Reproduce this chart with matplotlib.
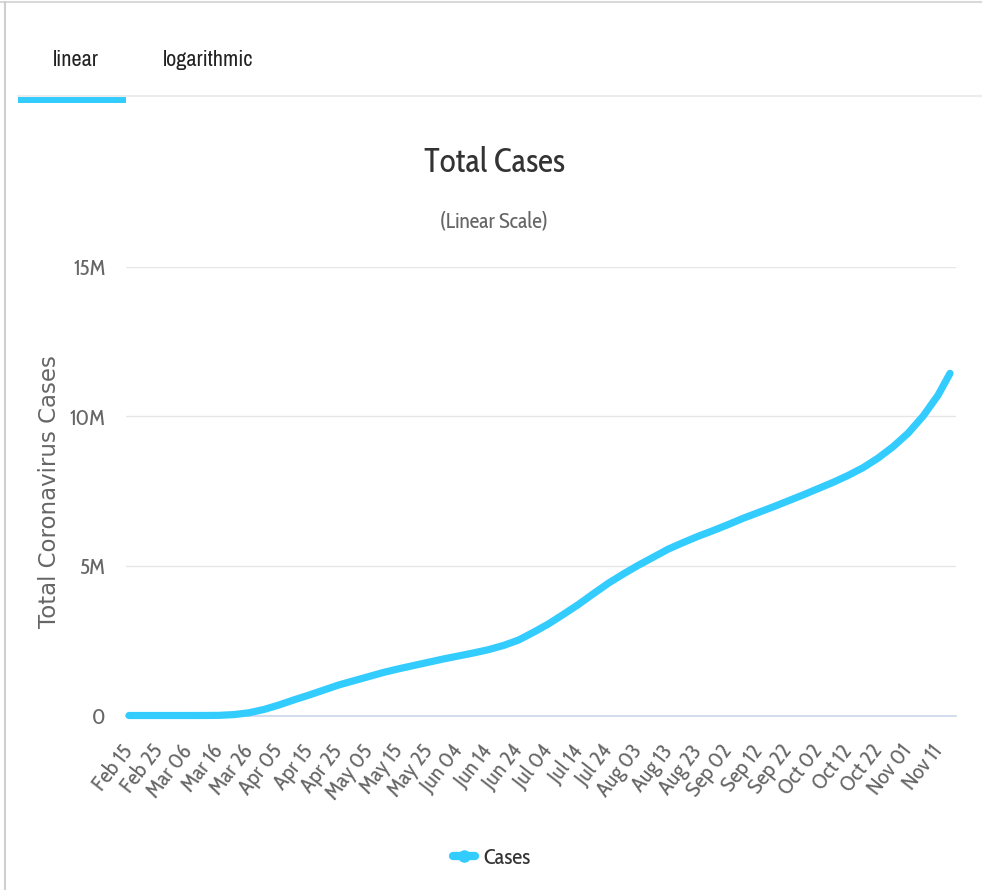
import numpy as np
import pandas as pd
import matplotlib
matplotlib.use('Agg')
import matplotlib.pyplot as plt
import matplotlib.dates as mdates
from matplotlib.lines import Line2D
from matplotlib.patches import Rectangle
from matplotlib.transforms import ScaledTranslation

# Cumulative cases (millions), sampled every five days
dates = ['2020-02-15', '2020-02-20', '2020-02-25', '2020-03-01', '2020-03-06',
         '2020-03-11', '2020-03-16', '2020-03-21', '2020-03-26', '2020-03-31',
         '2020-04-05', '2020-04-10', '2020-04-15', '2020-04-20', '2020-04-25',
         '2020-04-30', '2020-05-05', '2020-05-10', '2020-05-15', '2020-05-20',
         '2020-05-25', '2020-05-30', '2020-06-04', '2020-06-09', '2020-06-14',
         '2020-06-19', '2020-06-24', '2020-06-29', '2020-07-04', '2020-07-09',
         '2020-07-14', '2020-07-19', '2020-07-24', '2020-07-29', '2020-08-03',
         '2020-08-08', '2020-08-13', '2020-08-18', '2020-08-23', '2020-08-28',
         '2020-09-02', '2020-09-07', '2020-09-12', '2020-09-17', '2020-09-22',
         '2020-09-27', '2020-10-02', '2020-10-07', '2020-10-12', '2020-10-17',
         '2020-10-22', '2020-10-27', '2020-11-01', '2020-11-06', '2020-11-11',
         '2020-11-15']
cases_m = [0.0, 0.0, 0.0, 0.0, 0.0,
           0.001, 0.005, 0.03, 0.09, 0.20,
           0.35, 0.52, 0.68, 0.85, 1.02,
           1.16, 1.30, 1.44, 1.56, 1.67,
           1.78, 1.89, 1.99, 2.09, 2.20,
           2.34, 2.52, 2.78, 3.06, 3.38,
           3.71, 4.07, 4.42, 4.73, 5.02,
           5.29, 5.56, 5.78, 5.99, 6.18,
           6.38, 6.59, 6.78, 6.97, 7.17,
           7.37, 7.58, 7.79, 8.02, 8.28,
           8.60, 8.98, 9.43, 10.00, 10.70,
           11.43]

y_ticks = [0, 5e6, 10e6, 15e6]
y_tick_labels = ['0', '5M', '10M', '15M']
tabs = ['linear', 'logarithmic']

CYAN = '#33CCFF'
CHART_FONT = ['Cabin Condensed', 'DejaVu Sans']
TAB_FONT = ['Archivo Narrow', 'DejaVu Sans']

W, H = 982, 890
fig = plt.figure(figsize=(W / 100, H / 100), dpi=100)
fig.patch.set_facecolor('white')


def fx(px):
    return px / W


def fy(px):
    return 1 - px / H


# page frame and tab strip
fig.add_artist(Line2D([0, 1], [fy(1.5), fy(1.5)], color='#d9d9d9', lw=1.5))
fig.add_artist(Line2D([fx(4.5), fx(4.5)], [0, fy(1.5)], color='#cfcfcf', lw=1.5))
fig.add_artist(Line2D([fx(18), 1], [fy(96), fy(96)], color='#ececec', lw=1.5))
fig.add_artist(Rectangle((fx(18), fy(103)), fx(108), 7 / H,
                         facecolor=CYAN, edgecolor='none'))
for label, cx in zip(tabs, [76, 208]):
    fig.text(fx(cx), fy(60), label, ha='center', va='center',
             fontsize=16, color='#222222', family=TAB_FONT)

fig.text(fx(494), fy(163), 'Total Cases', ha='center', va='center',
         fontsize=24, color='#333333', family=CHART_FONT)
fig.text(fx(494), fy(222), '(Linear Scale)', ha='center', va='center',
         fontsize=15.5, color='#666666', family=CHART_FONT)

ax = fig.add_axes([fx(126), fy(715.5), fx(956) - fx(126), (715.5 - 266.5) / H])

x = pd.to_datetime(dates)
y = np.array(cases_m) * 1e6
ax.plot(x, y, color=CYAN, lw=5.2, solid_capstyle='round',
        solid_joinstyle='round', clip_on=False, zorder=3, label='Cases')

start = pd.Timestamp('2020-02-15')
ax.set_xlim(start - pd.Timedelta(days=1), start + pd.Timedelta(days=276))
ax.set_ylim(0, 15e6)

ticks = pd.date_range('2020-02-15', '2020-11-11', freq='10D')
ax.set_xticks(mdates.date2num(ticks))
ax.set_xticklabels([t.strftime('%b %d') for t in ticks], rotation=52,
                   ha='right', va='center', rotation_mode='anchor',
                   fontsize=16, color='#666666', family=CHART_FONT)
shift = ScaledTranslation(4 / 100, 0, fig.dpi_scale_trans)
for lbl in ax.get_xticklabels():
    lbl.set_transform(lbl.get_transform() + shift)
ax.tick_params(axis='x', length=0, pad=23)

ax.set_yticks(y_ticks)
ax.set_yticklabels(y_tick_labels, fontsize=16, color='#666666', family=CHART_FONT)
ax.tick_params(axis='y', length=0, pad=15)

ax.grid(axis='y', color='#e6e6e6', lw=1)
ax.set_axisbelow(True)
for side in ['top', 'right', 'left']:
    ax.spines[side].set_visible(False)
ax.spines['bottom'].set_color('#ccd6eb')
ax.spines['bottom'].set_linewidth(1.2)

fig.text(fx(50), fy(492), 'Total Coronavirus Cases', rotation=90,
         ha='center', va='center', fontsize=16.5, color='#666666',
         family='DejaVu Sans')

handle = Line2D([], [], color=CYAN, lw=6, marker='o', ms=8,
                solid_capstyle='round')
fig.legend(handles=[handle], labels=['Cases'], loc='center',
           bbox_to_anchor=(fx(492), fy(858)), frameon=False,
           handlelength=0.95, handletextpad=0.4,
           prop={'family': CHART_FONT, 'size': 16}, labelcolor='#333333')

fig.savefig('out.png', dpi=100, facecolor='white')
